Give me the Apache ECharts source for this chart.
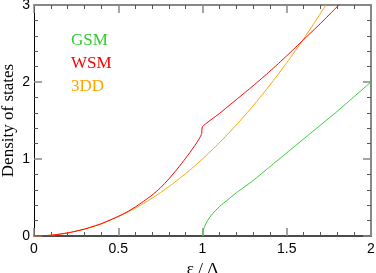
<!DOCTYPE html>
<html>
<head>
<meta charset="utf-8">
<script src="https://cdn.jsdelivr.net/npm/echarts@6/dist/echarts.min.js"></script>
<style>html,body{margin:0;padding:0;background:#fff;}#c{width:376px;height:273px;}</style>
</head>
<body>
<div id="c"></div>
<script>
// Data
const xTicks = ['0', '0.5', '1', '1.5', '2'];
const yTicks = ['0', '1', '2', '3'];
const legendNames = ['GSM', 'WSM', '3DD'];

const gsmX = [1.0, 1.003, 1.01, 1.03, 1.06, 1.1, 1.15, 1.2, 1.3, 1.4, 1.5, 1.6, 1.7, 1.8, 1.9, 2.0];
const gsmY = [0.0, 0.06, 0.11, 0.2, 0.29, 0.38, 0.47, 0.56, 0.72, 0.9, 1.08, 1.26, 1.44, 1.62, 1.81, 2.0];

const wsmX = [0, 0.1, 0.2, 0.3, 0.4, 0.5, 0.55, 0.6, 0.65, 0.7, 0.75, 0.8, 0.85, 0.9, 0.95, 0.98, 0.995, 1.0, 1.1, 1.2, 1.3, 1.4, 1.5, 1.6, 1.7, 1.8, 1.85];
const wsmY = [0, 0.01, 0.04, 0.09, 0.16, 0.255, 0.31, 0.375, 0.45, 0.53, 0.625, 0.74, 0.87, 1.01, 1.16, 1.26, 1.33, 1.42, 1.59, 1.77, 1.95, 2.14, 2.34, 2.55, 2.76, 2.98, 3.09];

const dddX = [0, 0.1, 0.2, 0.3, 0.4, 0.5, 0.6, 0.7, 0.8, 0.9, 1.0, 1.1, 1.2, 1.3, 1.4, 1.5, 1.6, 1.7, 1.8];
const dddY = [0, 0.01, 0.04, 0.09, 0.16, 0.25, 0.36, 0.49, 0.64, 0.81, 1.0, 1.21, 1.44, 1.69, 1.96, 2.25, 2.56, 2.89, 3.24];

const pairs = (xs, ys) => xs.map((x, i) => [x, ys[i]]);
const colors = {GSM: '#33cc33', WSM: '#ff0000', '3DD': '#ffa500'};

const chart = echarts.init(document.getElementById('c'), null, {renderer: 'canvas'});
const tickLabelFont = {color: '#000', fontFamily: 'Liberation Sans, Arial, sans-serif', fontSize: 14};

chart.setOption({
  animation: false,
  backgroundColor: '#fff',
  grid: {left: 34, right: 5, top: 5, bottom: 37, containLabel: false, outerBoundsMode: 'none'},
  xAxis: [{
    type: 'value', min: 0, max: 2, interval: 0.5, position: 'bottom',
    axisLine: {show: true, lineStyle: {color: '#111', width: 1.5}},
    axisTick: {show: true, inside: true, length: 8, lineStyle: {color: '#888', width: 1.5}},
    minorTick: {show: true, splitNumber: 5, length: 4, lineStyle: {color: '#555', width: 1}},
    splitLine: {show: false},
    axisLabel: Object.assign({margin: 6, formatter: v => xTicks[Math.round(v / 0.5)]}, tickLabelFont),
    name: 'ε / Δ', nameLocation: 'middle', nameGap: 25, nameMoveOverlap: false,
    nameTextStyle: {fontFamily: 'Liberation Serif, Times New Roman, serif', fontSize: 17, color: '#000'}
  }, {
    type: 'value', min: 0, max: 2, interval: 0.5, position: 'top',
    axisLine: {show: true, onZero: false, lineStyle: {color: '#888', width: 2}},
    axisTick: {show: true, inside: true, length: 8, lineStyle: {color: '#888', width: 1.5}},
    minorTick: {show: true, splitNumber: 5, length: 4, lineStyle: {color: '#555', width: 1}},
    splitLine: {show: false}, axisLabel: {show: false}
  }],
  yAxis: [{
    type: 'value', min: 0, max: 3, interval: 1, position: 'left',
    axisLine: {show: true, lineStyle: {color: '#000', width: 1}},
    axisTick: {show: true, inside: true, length: 8, lineStyle: {color: '#888', width: 1.5}},
    minorTick: {show: true, splitNumber: 5, length: 4, lineStyle: {color: '#555', width: 1}},
    splitLine: {show: false},
    axisLabel: Object.assign({margin: 4, formatter: v => yTicks[Math.round(v)]}, tickLabelFont),
    name: 'Density of states', nameLocation: 'middle', nameGap: 17, nameMoveOverlap: false,
    nameTextStyle: {fontFamily: 'Liberation Serif, Times New Roman, serif', fontSize: 17, color: '#000'}
  }, {
    type: 'value', min: 0, max: 3, interval: 1, position: 'right',
    axisLine: {show: true, onZero: false, lineStyle: {color: '#888', width: 2}},
    axisTick: {show: true, inside: true, length: 8, lineStyle: {color: '#888', width: 1.5}},
    minorTick: {show: true, splitNumber: 5, length: 4, lineStyle: {color: '#555', width: 1}},
    splitLine: {show: false}, axisLabel: {show: false}
  }],
  graphic: legendNames.map((n, i) => ({
    type: 'text', left: 71, top: 32 + i * 23, silent: true,
    style: {text: n, fill: colors[n], font: '17px "Liberation Serif", "Times New Roman", serif'}
  })),
  series: [
    {name: '3DD', type: 'line', data: pairs(dddX, dddY), showSymbol: false, smooth: 0.2, clip: true,
     lineStyle: {color: colors['3DD'], width: 1}, z: 2},
    {name: 'WSM', type: 'line', data: pairs(wsmX, wsmY), showSymbol: false, smooth: 0.2, clip: true,
     lineStyle: {color: colors.WSM, width: 1}, z: 3},
    {name: 'GSM', type: 'line', data: pairs(gsmX, gsmY), showSymbol: false, smooth: 0.2, clip: true,
     lineStyle: {color: colors.GSM, width: 1}, z: 3}
  ]
});
</script>
</body>
</html>
